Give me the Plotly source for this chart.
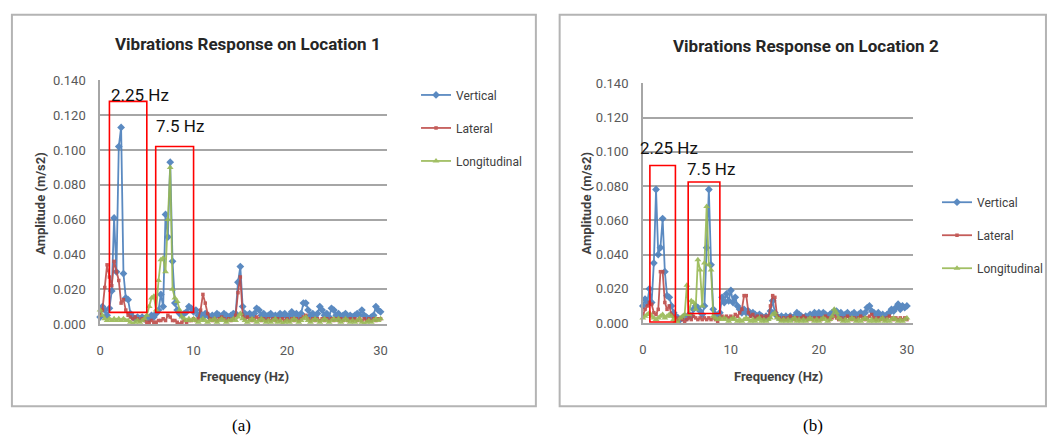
import plotly.graph_objects as go

# ---------------- data ----------------
FREQ_HZ = [round(0.25 * k, 2) for k in range(121)]  # 0 .. 30 Hz, 0.25 Hz bins

# Location 1
VERT_1 = [0.004, 0.010, 0.008, 0.005,  0.009, 0.019, 0.061, 0.030,  0.102, 0.113, 0.029, 0.015,
          0.014, 0.006, 0.004, 0.003,  0.004, 0.003, 0.004, 0.003,  0.004, 0.003, 0.005, 0.004,
          0.006, 0.008, 0.017, 0.010,  0.063, 0.050, 0.093, 0.036,  0.012, 0.008, 0.006, 0.005,
          0.006, 0.007, 0.010, 0.009,  0.007, 0.008, 0.005, 0.006,  0.004, 0.006, 0.005, 0.004,
          0.005, 0.004, 0.006, 0.005,  0.004, 0.006, 0.005, 0.004,  0.005, 0.006, 0.006, 0.024,
          0.033, 0.010, 0.006, 0.005,  0.006, 0.005, 0.006, 0.009,  0.008, 0.005, 0.006, 0.004,
          0.005, 0.006, 0.004, 0.005,  0.004, 0.006, 0.005, 0.006,  0.004, 0.005, 0.007, 0.005,
          0.006, 0.004, 0.006, 0.012,  0.012, 0.008, 0.005, 0.006,  0.004, 0.006, 0.010, 0.008,
          0.005, 0.006, 0.004, 0.009,  0.008, 0.005, 0.006, 0.004,  0.005, 0.006, 0.004, 0.005,
          0.004, 0.005, 0.006, 0.005,  0.008, 0.005, 0.004, 0.003,  0.004, 0.005, 0.010, 0.008,
          0.007]
LAT_1 = [0.005, 0.008, 0.021, 0.034,  0.027, 0.022, 0.036, 0.030,  0.025, 0.012, 0.014, 0.008,
         0.005, 0.004, 0.003, 0.004,  0.003, 0.002, 0.003, 0.002,  0.001, 0.001, 0.002, 0.001,
         0.001, 0.002, 0.002, 0.003,  0.002, 0.005, 0.004, 0.002,  0.002, 0.001, 0.000, 0.001,
         0.002, 0.001, 0.002, 0.002,  0.003, 0.002, 0.003, 0.008,  0.017, 0.012, 0.006, 0.003,
         0.002, 0.003, 0.002, 0.003,  0.004, 0.003, 0.002, 0.003,  0.002, 0.003, 0.005, 0.018,
         0.027, 0.005, 0.003, 0.004,  0.003, 0.002, 0.003, 0.004,  0.003, 0.002, 0.003, 0.002,
         0.003, 0.002, 0.003, 0.002,  0.003, 0.002, 0.003, 0.002,  0.003, 0.002, 0.003, 0.002,
         0.003, 0.002, 0.003, 0.004,  0.005, 0.003, 0.002, 0.003,  0.002, 0.003, 0.002, 0.003,
         0.002, 0.003, 0.002, 0.003,  0.002, 0.003, 0.002, 0.003,  0.002, 0.003, 0.002, 0.003,
         0.002, 0.003, 0.002, 0.003,  0.002, 0.003, 0.002, 0.003,  0.002, 0.003, 0.002, 0.003,
         0.003]
LONG_1 = [0.008, 0.005, 0.003, 0.002,  0.003, 0.002, 0.003, 0.002,  0.003, 0.002, 0.003, 0.002,
          0.002, 0.001, 0.000, 0.001,  0.002, 0.001, 0.002, 0.003,  0.005, 0.010, 0.015, 0.016,
          0.008, 0.025, 0.037, 0.038,  0.030, 0.060, 0.090, 0.020,  0.015, 0.013, 0.008, 0.004,
          0.003, 0.002, 0.003, 0.002,  0.003, 0.002, 0.001, 0.002,  0.003, 0.002, 0.001, 0.002,
          0.002, 0.003, 0.001, 0.002,  0.003, 0.002, 0.001, 0.002,  0.002, 0.003, 0.002, 0.004,
          0.006, 0.003, 0.002, 0.001,  0.002, 0.003, 0.002, 0.001,  0.002, 0.003, 0.002, 0.001,
          0.002, 0.001, 0.002, 0.003,  0.001, 0.002, 0.000, 0.001,  0.002, 0.001, 0.002, 0.003,
          0.002, 0.001, 0.002, 0.003,  0.004, 0.002, 0.001, 0.002,  0.003, 0.002, 0.001, 0.002,
          0.003, 0.002, 0.001, 0.002,  0.003, 0.002, 0.003, 0.001,  0.002, 0.003, 0.002, 0.001,
          0.002, 0.001, 0.002, 0.003,  0.001, 0.000, 0.001, 0.002,  0.001, 0.002, 0.003, 0.002,
          0.003]

# Location 2
VERT_2 = [0.010, 0.014, 0.012, 0.020,  0.012, 0.035, 0.078, 0.040,  0.044, 0.061, 0.030, 0.016,
          0.015, 0.010, 0.006, 0.004,  0.003, 0.002, 0.003, 0.004,  0.003, 0.005, 0.004, 0.008,
          0.010, 0.009, 0.007, 0.005,  0.010, 0.044, 0.078, 0.034,  0.008, 0.005, 0.004, 0.006,
          0.015, 0.012, 0.017, 0.013,  0.019, 0.012, 0.015, 0.010,  0.008, 0.006, 0.008, 0.006,
          0.007, 0.005, 0.006, 0.005,  0.004, 0.005, 0.004, 0.003,  0.004, 0.003, 0.007, 0.013,
          0.006, 0.004, 0.003, 0.004,  0.003, 0.004, 0.003, 0.004,  0.003, 0.004, 0.006, 0.005,
          0.004, 0.003, 0.004, 0.003,  0.005, 0.004, 0.006, 0.005,  0.006, 0.004, 0.006, 0.005,
          0.004, 0.005, 0.006, 0.007,  0.007, 0.005, 0.006, 0.004,  0.005, 0.006, 0.004, 0.005,
          0.006, 0.004, 0.005, 0.006,  0.005, 0.006, 0.009, 0.010,  0.007, 0.006, 0.005, 0.006,
          0.004, 0.005, 0.004, 0.005,  0.006, 0.008, 0.007, 0.009,  0.011, 0.008, 0.010, 0.009,
          0.010]
LAT_2 = [0.005, 0.008, 0.010, 0.012,  0.011, 0.006, 0.005, 0.008,  0.030, 0.030, 0.012, 0.008,
         0.010, 0.005, 0.004, 0.003,  0.002, 0.003, 0.002, 0.001,  0.002, 0.003, 0.002, 0.004,
         0.003, 0.002, 0.003, 0.002,  0.003, 0.002, 0.003, 0.002,  0.003, 0.002, 0.001, 0.003,
         0.004, 0.003, 0.004, 0.003,  0.004, 0.003, 0.005, 0.004,  0.006, 0.008, 0.016, 0.016,
         0.006, 0.004, 0.005, 0.003,  0.004, 0.003, 0.004, 0.003,  0.004, 0.003, 0.010, 0.016,
         0.015, 0.004, 0.003, 0.002,  0.003, 0.002, 0.003, 0.004,  0.003, 0.002, 0.003, 0.002,
         0.003, 0.004, 0.003, 0.002,  0.003, 0.002, 0.003, 0.002,  0.003, 0.002, 0.003, 0.004,
         0.003, 0.002, 0.003, 0.004,  0.003, 0.002, 0.003, 0.002,  0.003, 0.004, 0.003, 0.002,
         0.003, 0.002, 0.003, 0.004,  0.003, 0.002, 0.003, 0.004,  0.005, 0.003, 0.002, 0.003,
         0.002, 0.003, 0.002, 0.003,  0.004, 0.003, 0.002, 0.003,  0.002, 0.003, 0.002, 0.003,
         0.002]
LONG_2 = [0.003, 0.004, 0.005, 0.006,  0.004, 0.003, 0.002, 0.003,  0.004, 0.005, 0.003, 0.004,
          0.005, 0.004, 0.002, 0.001,  0.000, 0.003, 0.004, 0.005,  0.022, 0.005, 0.013, 0.012,
          0.008, 0.037, 0.031, 0.010,  0.035, 0.068, 0.034, 0.031,  0.004, 0.003, 0.002, 0.003,
          0.002, 0.003, 0.002, 0.001,  0.002, 0.003, 0.002, 0.001,  0.002, 0.001, 0.002, 0.003,
          0.002, 0.001, 0.002, 0.001,  0.002, 0.003, 0.001, 0.002,  0.001, 0.002, 0.003, 0.005,
          0.006, 0.003, 0.002, 0.001,  0.002, 0.001, 0.002, 0.001,  0.002, 0.003, 0.001, 0.002,
          0.001, 0.002, 0.001, 0.002,  0.003, 0.002, 0.001, 0.002,  0.001, 0.002, 0.003, 0.002,
          0.001, 0.002, 0.004, 0.008,  0.006, 0.003, 0.002, 0.001,  0.002, 0.001, 0.002, 0.003,
          0.002, 0.001, 0.002, 0.001,  0.002, 0.003, 0.002, 0.001,  0.002, 0.001, 0.002, 0.001,
          0.002, 0.003, 0.001, 0.002,  0.001, 0.002, 0.003, 0.002,  0.001, 0.002, 0.001, 0.002,
          0.003]

SERIES_NAMES = ["Vertical", "Lateral", "Longitudinal"]
TITLES = ["Vibrations Response on Location 1", "Vibrations Response on Location 2"]
CAPTIONS = ["(a)", "(b)"]
Y_TICKS = [0.0, 0.02, 0.04, 0.06, 0.08, 0.10, 0.12, 0.14]
X_TICKS = [0, 10, 20, 30]

# red highlight boxes (data coords): x0, x1, y0, y1, label, label_x, label_y
BOXES_1 = [(1.0, 5.0, 0.0067, 0.128, "2.25 Hz", 4.25, 0.1317),
           (5.95, 10.0, 0.0067, 0.102, "7.5 Hz", 8.55, 0.1139)]
BOXES_2 = [(0.8, 3.7, 0.0006, 0.092, "2.25 Hz", 2.98, 0.1022),
           (5.15, 8.75, 0.0056, 0.0824, "7.5 Hz", 7.8, 0.0898)]

# ---------------- style ----------------
W, H = 1048, 447
def px(x):
    return x / W
def py(y):
    return 1 - y / H

COLORS = ["#4a7ebb", "#be4b48", "#98b954"]
SYMBOLS = ["diamond", "square", "triangle-up"]
MSIZES = [6, 3.5, 6]
FONT = "Roboto, Open Sans, sans-serif"
GRID = "#a6a6a6"
TXT = "#404040"

fig = go.Figure()

panels = [
    dict(data=[VERT_1, LAT_1, LONG_1], xa="x", ya="y", legend="legend"),
    dict(data=[VERT_2, LAT_2, LONG_2], xa="x2", ya="y2", legend="legend2"),
]
for p in panels:
    for i, vals in enumerate(p["data"]):
        fig.add_trace(go.Scatter(
            x=FREQ_HZ, y=vals, name=SERIES_NAMES[i], mode="lines+markers",
            xaxis=p["xa"], yaxis=p["ya"], legend=p["legend"], legendgroup=p["legend"] + str(i),
            line=dict(color=COLORS[i], width=1.8),
            marker=dict(color=COLORS[i], symbol=SYMBOLS[i], size=MSIZES[i]),
            cliponaxis=False, opacity=0.9,
        ))

def xaxis(domain):
    return dict(domain=domain, range=[0, 30.72], tickvals=X_TICKS, showgrid=False, zeroline=False,
                showline=True, linecolor=GRID, linewidth=1.5, ticks="outside", ticklen=14,
                tickcolor="rgba(0,0,0,0)", tickfont=dict(family=FONT, size=13, color="#595959"))

def yaxis(domain, anchor):
    return dict(domain=domain, range=[0, 0.14], tickvals=Y_TICKS, tickformat=".3f", showgrid=True,
                gridcolor=GRID, gridwidth=2, zeroline=False, showline=True, linecolor=GRID,
                linewidth=1.5, ticks="outside", ticklen=10, tickcolor="rgba(0,0,0,0)", anchor=anchor,
                tickfont=dict(family=FONT, size=13, color="#595959"))

fig.update_layout(
    width=W, height=H, margin=dict(l=0, r=0, t=0, b=0),
    paper_bgcolor="white", plot_bgcolor="white",
    xaxis=dict(xaxis([px(97), px(387)]), anchor="y"),
    yaxis=yaxis([py(328), py(76)], "x"),
    xaxis2=dict(xaxis([px(645), px(918)]), anchor="y2"),
    yaxis2=yaxis([py(327), py(79)], "x2"),
    legend=dict(x=px(416), y=py(76), xanchor="left", yanchor="top", tracegroupgap=14,
                font=dict(family=FONT, size=12, color=TXT), bgcolor="rgba(0,0,0,0)"),
    legend2=dict(x=px(942), y=py(187), xanchor="left", yanchor="top", tracegroupgap=14,
                 font=dict(family=FONT, size=12, color=TXT), bgcolor="rgba(0,0,0,0)"),
    showlegend=True,
)

shapes = []
annotations = []
# panel frames
shapes.append(dict(type="rect", xref="paper", yref="paper", x0=px(8), x1=px(537), y0=py(413), y1=py(8),
                   line=dict(color="#b4b4b4", width=2)))
shapes.append(dict(type="rect", xref="paper", yref="paper", x0=px(561), x1=px(1052), y0=py(413), y1=py(8),
                   line=dict(color="#b4b4b4", width=2)))

for boxes, xr, yr in [(BOXES_1, "x", "y"), (BOXES_2, "x2", "y2")]:
    for (x0, x1, y0, y1, lab, lx, ly) in boxes:
        shapes.append(dict(type="rect", xref=xr, yref=yr, x0=x0, x1=x1, y0=y0, y1=y1,
                           line=dict(color="#ff0000", width=1.6)))
        annotations.append(dict(xref=xr, yref=yr, x=lx, y=ly, text=lab, showarrow=False,
                                xanchor="center", yanchor="middle",
                                font=dict(family=FONT, size=17, color="#111111")))

title_pos = [(246, 38), (810, 40)]
ylab_pos = [(37, 203), (588, 203)]
xlab_pos = [(243, 382), (782, 382)]
cap_pos = [(240, 433), (817, 433)]
for k in range(2):
    common = dict(xref="paper", yref="paper", showarrow=False, xanchor="center", yanchor="middle")
    annotations.append(dict(common, x=px(title_pos[k][0]), y=py(title_pos[k][1]),
                            text="<b>%s</b>" % TITLES[k],
                            font=dict(family=FONT, size=17, color="#262626")))
    annotations.append(dict(common, x=px(ylab_pos[k][0]), y=py(ylab_pos[k][1]),
                            text="<b>Amplitude (m/s2)</b>", textangle=-90,
                            font=dict(family=FONT, size=13, color=TXT)))
    annotations.append(dict(common, x=px(xlab_pos[k][0]), y=py(xlab_pos[k][1]),
                            text="<b>Frequency (Hz)</b>",
                            font=dict(family=FONT, size=13, color=TXT)))
    annotations.append(dict(common, x=px(cap_pos[k][0]), y=py(cap_pos[k][1]),
                            text=CAPTIONS[k],
                            font=dict(family="Liberation Serif, serif", size=17, color="#000000")))

fig.update_layout(shapes=shapes, annotations=annotations)
fig.write_html("out.html", config={"displayModeBar": False},
               post_script="document.body.style.margin='0';document.body.style.overflow='hidden';")
